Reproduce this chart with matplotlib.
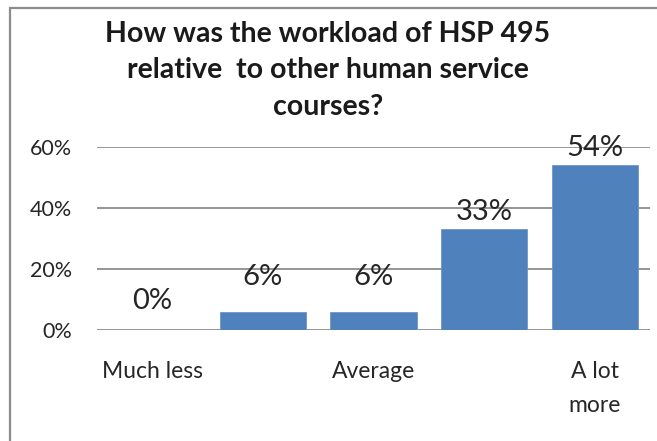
import matplotlib.pyplot as plt
from matplotlib.patches import Rectangle

# survey answers (share of respondents)
categories = ["Much less", "Less", "Average", "More", "A lot more"]
shown_labels = ["Much less", "", "Average", "", "A lot\nmore"]
shares = [0.0, 0.06, 0.06, 0.33, 0.54]
y_ticks = [0.0, 0.2, 0.4, 0.6]

# data labels were nudged by hand, so each has its own gap above the bar (pt)
label_gaps = [15, 19, 19, 7, 6.5]

plt.rcParams['font.family'] = ['Lato', 'DejaVu Sans']

fig = plt.figure(figsize=(6.57, 4.41), dpi=100)
W, H = 657, 441

# outer chart border (cut off on the right and bottom)
fig.patches.append(Rectangle((10 / W, -0.1), 1.2, (H - 8) / H + 0.1,
                             transform=fig.transFigure, fill=False,
                             edgecolor="#8c8c8c", linewidth=1.6))

ax = fig.add_axes([97 / W, (H - 330) / H, (650 - 97) / W, (330 - 147) / H])
x = range(len(categories))
ax.bar(x, shares, width=0.78, color="#4F81BD", edgecolor="#6d96c8",
       linewidth=0.6, zorder=3)

for xi, v, gap in zip(x, shares, label_gaps):
    ax.annotate(f"{v:.0%}", (xi, v), xytext=(0, gap), textcoords="offset points",
                ha="center", va="baseline", fontsize=21, color="#262626")

ax.set_xlim(-0.5, len(categories) - 0.5)
ax.set_ylim(0, 0.6)
ax.set_yticks(y_ticks)
ax.set_yticklabels([f"{t:.0%}" for t in y_ticks], fontsize=15.5, color="#262626")
ax.set_xticks(list(x))
ax.set_xticklabels(shown_labels, fontsize=16.5, color="#262626", linespacing=1.75)
ax.tick_params(axis="y", length=0, pad=18)
ax.tick_params(axis="x", length=0, pad=22.5)
ax.grid(axis="y", color="#8c8c8c", linewidth=1.3, zorder=0)
for side in ["top", "right", "left", "bottom"]:
    ax.spines[side].set_visible(False)

fig.text(328 / W, 1 - 21 / H,
         "How was the workload of HSP 495\nrelative  to other human service\ncourses?",
         ha="center", va="top", fontsize=20.5, fontweight="bold", color="#1a1a1a",
         linespacing=1.5)

fig.savefig("out.png", dpi=100)
